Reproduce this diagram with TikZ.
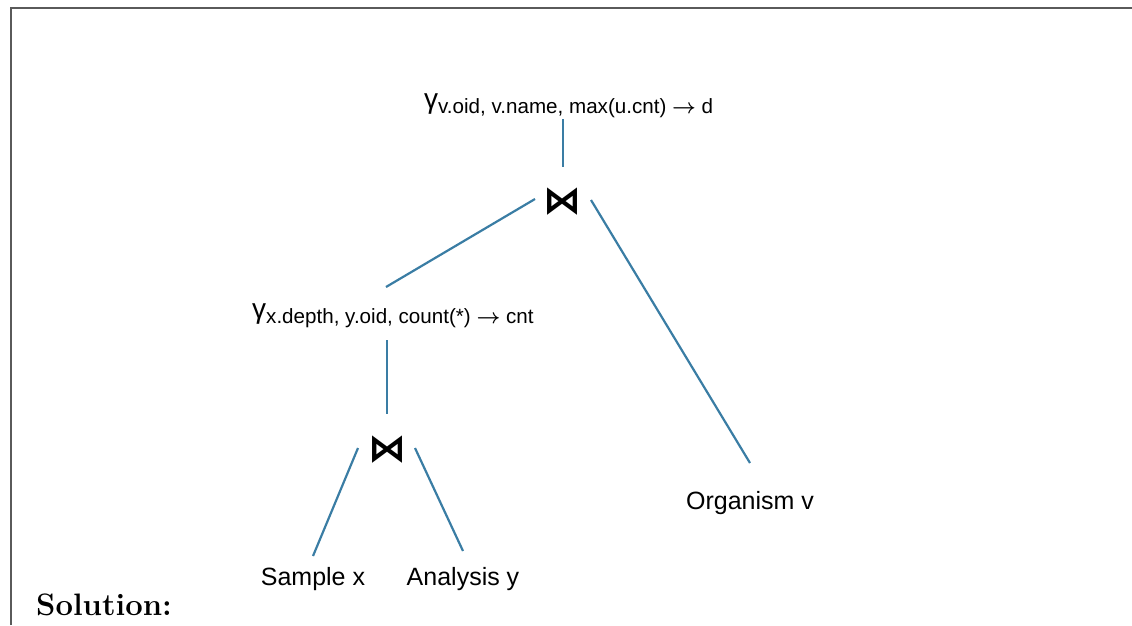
\documentclass[tikz,border=0pt]{standalone}
\usepackage{fontspec}
\newfontfamily\arial{Liberation Sans}
\newfontfamily\djv{DejaVu Sans}
\definecolor{edgeblue}{HTML}{3A7DA4}
\definecolor{framegray}{HTML}{5A5A5A}
\tikzset{
  edge/.style={draw=edgeblue, line width=2.2pt},
  lbl/.style={font=\arial\fontsize{25}{28}\selectfont, inner sep=0pt},
  grp/.style={inner sep=0pt, anchor=base west},
  joinop/.style={font=\djv\bfseries\fontsize{38}{38}\selectfont, inner sep=0pt},
}
\newcommand{\gam}{{\arial\fontsize{28}{28}\selectfont γ}}
\newcommand{\subt}[1]{\raisebox{-5pt}{\arial\fontsize{20.6}{21}\selectfont #1}}
\newcommand{\arr}{\(\boldsymbol{\rightarrow}\)}
\usepackage{amsmath}
\begin{document}
\begin{tikzpicture}[x=1pt,y=-1pt]
\useasboundingbox (0,0) rectangle (1132,625);
\draw[framegray, line width=1.8pt] (11,625) -- (11,8) -- (1132,8);
% nodes
\node[grp] (g1) at (424,108) {\gam\subt{v.oid, v.name, max(u.cnt) \arr{} d}};
\node[joinop] (j1) at (562,202) {⋈};
\node[grp] (g2) at (252,318) {\gam\subt{x.depth, y.oid, count(*) \arr{} cnt}};
\node[joinop] (j2) at (387,450) {⋈};
\node[lbl, anchor=base] (s) at (313,585) {Sample x};
\node[lbl, anchor=base] (a) at (463,585) {Analysis y};
\node[lbl, anchor=base] (o) at (750,509) {Organism v};
\node[font=\fontsize{31}{34}\selectfont\bfseries, anchor=base west, inner sep=0pt] (sol) at (36,615) {Solution:};
% connector end points
\coordinate (g1b) at (563,119);
\coordinate (j1t) at (563,167);
\coordinate (j1l) at (535,199);
\coordinate (j1r) at (591,200);
\coordinate (g2t) at (386,287);
\coordinate (ot) at (750,463);
\coordinate (g2b) at (387,340);
\coordinate (j2t) at (387,414);
\coordinate (j2l) at (358,448);
\coordinate (j2r) at (415,448);
\coordinate (st) at (313,556);
\coordinate (at) at (463,551);
\draw[edge] (g1b) -- (j1t);
\draw[edge] (j1l) -- (g2t);
\draw[edge] (j1r) -- (ot);
\draw[edge] (g2b) -- (j2t);
\draw[edge] (j2l) -- (st);
\draw[edge] (j2r) -- (at);
\end{tikzpicture}
\end{document}
